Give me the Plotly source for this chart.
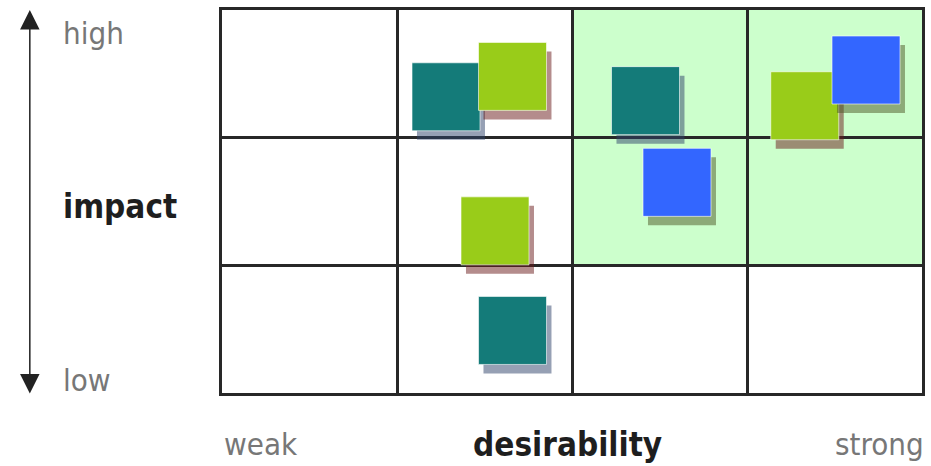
import plotly.graph_objects as go

# ---- data ----
teal_x = [1.28, 2.42, 1.66]
teal_y = [2.32, 2.29, 0.49]
lime_x = [1.66, 3.33, 1.56]
lime_y = [2.48, 2.25, 1.27]
blue_x = [2.60, 3.68]
blue_y = [1.65, 2.53]

x_labels = ["weak", "desirability", "strong"]
y_labels = ["high", "impact", "low"]

# ---- layout geometry ----
W, H = 931, 466
ML, MR, MT, MB = 222, 6, 10, 73
PW, PH = W - ML - MR, H - MT - MB
XR, YR = [0, 4], [0, 3]
ux = PW / (XR[1] - XR[0])
uy = PH / (YR[1] - YR[0])
SHX, SHY = 5 / ux, -9 / uy  # shadow offset in data units

def px(x):
    return (x - ML) / PW

def py(y):
    return (H - MB - y) / PH

FONT = "Liberation Sans Narrow, DejaVu Sans Condensed, Arial Narrow, sans-serif"
MS = 68

fig = go.Figure()

series = [
    (teal_x, teal_y, "#147b79", "rgba(45,65,105,0.5)"),
    (lime_x, lime_y, "#99cc19", "rgba(105,25,25,0.5)"),
    (blue_x, blue_y, "#3366ff", "rgba(76,85,36,0.5)"),
]
for xs, ys, col, shcol in series:
    fig.add_trace(go.Scatter(
        x=[v + SHX for v in xs], y=[v + SHY for v in ys], mode="markers",
        marker=dict(symbol="square", size=MS, color=shcol, line=dict(width=0)),
        hoverinfo="skip", showlegend=False))
    fig.add_trace(go.Scatter(
        x=xs, y=ys, mode="markers",
        marker=dict(symbol="square", size=MS, color=col,
                    line=dict(width=1, color="rgba(255,255,255,0.6)")),
        showlegend=False))

fig.add_shape(type="rect", xref="x", yref="y", x0=2, x1=4, y0=1, y1=3,
              fillcolor="#ccffcc", line=dict(width=0), layer="below")

axis_common = dict(showgrid=True, gridcolor="#282828", gridwidth=2.5, dtick=1, tick0=0,
                   showline=True, mirror=True, linecolor="#282828", linewidth=2.5,
                   showticklabels=False, zeroline=False, ticks="", fixedrange=True)
fig.update_xaxes(range=XR, **axis_common)
fig.update_yaxes(range=YR, **axis_common)

# double arrow
fig.add_annotation(x=px(29), y=py(10), xref="paper", yref="paper",
                   ax=0, ay=385, axref="pixel", ayref="pixel", text="",
                   showarrow=True, arrowhead=2, arrowside="end+start",
                   arrowsize=2.6, arrowwidth=1.5, arrowcolor="#222")

grey = "#777777"
dark = "#1e1e1e"
REG, BOLD = 31, 33
fig.add_annotation(x=px(60), y=py(33), xref="paper", yref="paper", text=y_labels[0],
                   showarrow=False, xanchor="left", yanchor="middle",
                   font=dict(family=FONT, size=REG, color=grey))
fig.add_annotation(x=px(60), y=py(206), xref="paper", yref="paper", text="<b>%s</b>" % y_labels[1],
                   showarrow=False, xanchor="left", yanchor="middle",
                   font=dict(family=FONT, size=BOLD, color=dark))
fig.add_annotation(x=px(60), y=py(380), xref="paper", yref="paper", text=y_labels[2],
                   showarrow=False, xanchor="left", yanchor="middle",
                   font=dict(family=FONT, size=REG, color=grey))
fig.add_annotation(x=px(222), y=py(444), xref="paper", yref="paper", text=x_labels[0],
                   showarrow=False, xanchor="left", yanchor="middle",
                   font=dict(family=FONT, size=REG, color=grey))
fig.add_annotation(x=px(569), y=py(444), xref="paper", yref="paper", text="<b>%s</b>" % x_labels[1],
                   showarrow=False, xanchor="center", yanchor="middle",
                   font=dict(family=FONT, size=BOLD, color=dark))
fig.add_annotation(x=px(929), y=py(444), xref="paper", yref="paper", text=x_labels[2],
                   showarrow=False, xanchor="right", yanchor="middle",
                   font=dict(family=FONT, size=REG, color=grey))

fig.update_layout(width=W, height=H, margin=dict(l=ML, r=MR, t=MT, b=MB),
                  paper_bgcolor="white", plot_bgcolor="white")

fig.write_html("out.html")
